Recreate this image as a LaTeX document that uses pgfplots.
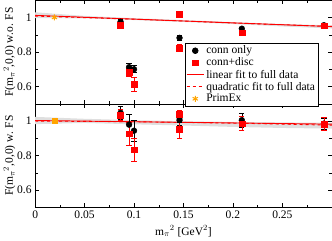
\documentclass[border=0pt]{standalone}
\usepackage{pgfplots}
\pgfplotsset{compat=1.18}
\usepackage{fontspec}
\setmainfont{Liberation Serif}
\definecolor{primex}{RGB}{255,165,0}
\begin{document}
\begin{tikzpicture}
\pgfplotsset{
  every axis/.append style={
    scale only axis, width=295bp, height=103bp,
    xmin=0, xmax=0.3, ymin=0.5, ymax=1.1,
    scaled ticks=false,
    xtick={0,0.05,0.1,0.15,0.2,0.25}, minor xtick={0.025,0.075,0.125,0.175,0.225,0.275},
    ytick={0.6,0.8,1}, yticklabels={0.6,0.8,1}, minor ytick={0.5,0.7,0.9,1.1},
    tick label style={font=\fontsize{11.5}{13}\selectfont},
    label style={font=\fontsize{11.5}{13}\selectfont},
    ylabel shift=-5pt,
    tick style={black, line width=0.4pt},
    major tick length=4bp, minor tick length=2.5bp,
    clip=true,
  },
  cerr/.style={error bars/.cd, y dir=both, y explicit, error bar style={line width=0.6pt}, error mark options={rotate=90, mark size=2.6bp, line width=0.6pt}},
}
% ---------- bottom panel ----------
\begin{axis}[at={(0,0)}, anchor=south west,
  xticklabels={0,0.05,0.1,0.15,0.2,0.25},
  xlabel={m$_\pi{}^{2}$ [GeV$^2$]},
  ylabel={F(m$_\pi{}^{2}$,0,0) w. FS},
  xlabel shift=0pt]
\addplot[fill=gray!25, draw=none] coordinates {
 (0,1.024) (0.05,1.013) (0.1,1.005) (0.15,0.999) (0.2,0.995) (0.25,0.992) (0.3,0.99)
 (0.3,0.956) (0.25,0.96) (0.2,0.966) (0.15,0.974) (0.1,0.981) (0.05,0.989) (0,0.982)} -- cycle;
\addplot[red, line width=0.9pt] coordinates {(0,1.003) (0.3,0.982)};
\addplot[red, dashed, line width=0.9pt] coordinates {(0,1.0) (0.1,0.996) (0.2,0.988) (0.3,0.976)};
\addplot[only marks, mark=*, mark size=2.9bp, black, cerr] coordinates {
 (0.0864,1.048) +- (0,0.04)
 (0.095,0.979) +- (0,0.06)
 (0.1,0.944) +- (0,0.06)
 (0.146,1.02) +- (0,0.03)
 (0.146,1.005) +- (0,0.03)
 (0.209,1.005) +- (0,0.04)
 (0.292,0.985) +- (0,0.03)
};
\addplot[only marks, mark=square*, mark size=2.9bp, red, cerr] coordinates {
 (0.0864,1.036) +- (0,0.03)
 (0.095,0.927) +- (0,0.065)
 (0.1,0.834) +- (0,0.065)
 (0.146,1.04) +- (0,0.02)
 (0.146,0.952) +- (0,0.05)
 (0.209,0.985) +- (0,0.04)
 (0.292,0.984) +- (0,0.035)
};
\addplot[only marks, mark=square*, mark size=2.5bp, primex] coordinates {(0.0195,1.0)};
\end{axis}
% ---------- top panel ----------
\begin{axis}[at={(0,103bp)}, anchor=south west,
  xticklabels={},
  ylabel={F(m$_\pi{}^{2}$,0,0) w.o. FS},
  legend style={at={(rel axis cs:0.505,0.59)}, anchor=north west,
    font=\fontsize{11.5}{12}\selectfont, draw=black, fill=white,
    inner sep=1pt, row sep=-1.5pt, line width=0.6pt},
  legend cell align=left]
\addplot[fill=gray!25, draw=none, forget plot] coordinates {
 (0,1.03) (0.05,1.009) (0.1,0.996) (0.15,0.985) (0.2,0.973) (0.25,0.962) (0.3,0.954)
 (0.3,0.936) (0.25,0.948) (0.2,0.962) (0.15,0.974) (0.1,0.985) (0.05,0.995) (0,0.996)} -- cycle;
\addplot[only marks, mark=*, mark size=2.9bp, black, cerr] coordinates {
 (0.0864,0.975) +- (0,0.015)
 (0.095,0.712) +- (0,0.02)
 (0.1,0.70) +- (0,0.02)
 (0.146,1.015) +- (0,0.01)
 (0.146,0.882) +- (0,0.015)
 (0.209,0.935) +- (0,0.01)
 (0.292,0.955) +- (0,0.01)
};
\addlegendentry{conn only}
\addplot[only marks, mark=square*, mark size=2.9bp, red, cerr] coordinates {
 (0.0864,0.957) +- (0,0.015)
 (0.095,0.682) +- (0,0.025)
 (0.1,0.615) +- (0,0.04)
 (0.146,1.018) +- (0,0.015)
 (0.146,0.823) +- (0,0.02)
 (0.209,0.912) +- (0,0.015)
 (0.292,0.952) +- (0,0.01)
};
\addlegendentry{conn+disc}
\addplot[red, line width=0.9pt] coordinates {(0,1.012) (0.3,0.947)};
\addlegendentry{linear fit to full data}
\addplot[red, dashed, line width=0.9pt] coordinates {(0,1.008) (0.1,0.99) (0.2,0.968) (0.3,0.948)};
\addlegendentry{quadratic fit to full data}
\addplot[only marks, mark=asterisk, mark size=3bp, line width=1pt, primex] coordinates {(0.0195,1.0)};
\addlegendentry{PrimEx}
\end{axis}
\end{tikzpicture}
\end{document}
